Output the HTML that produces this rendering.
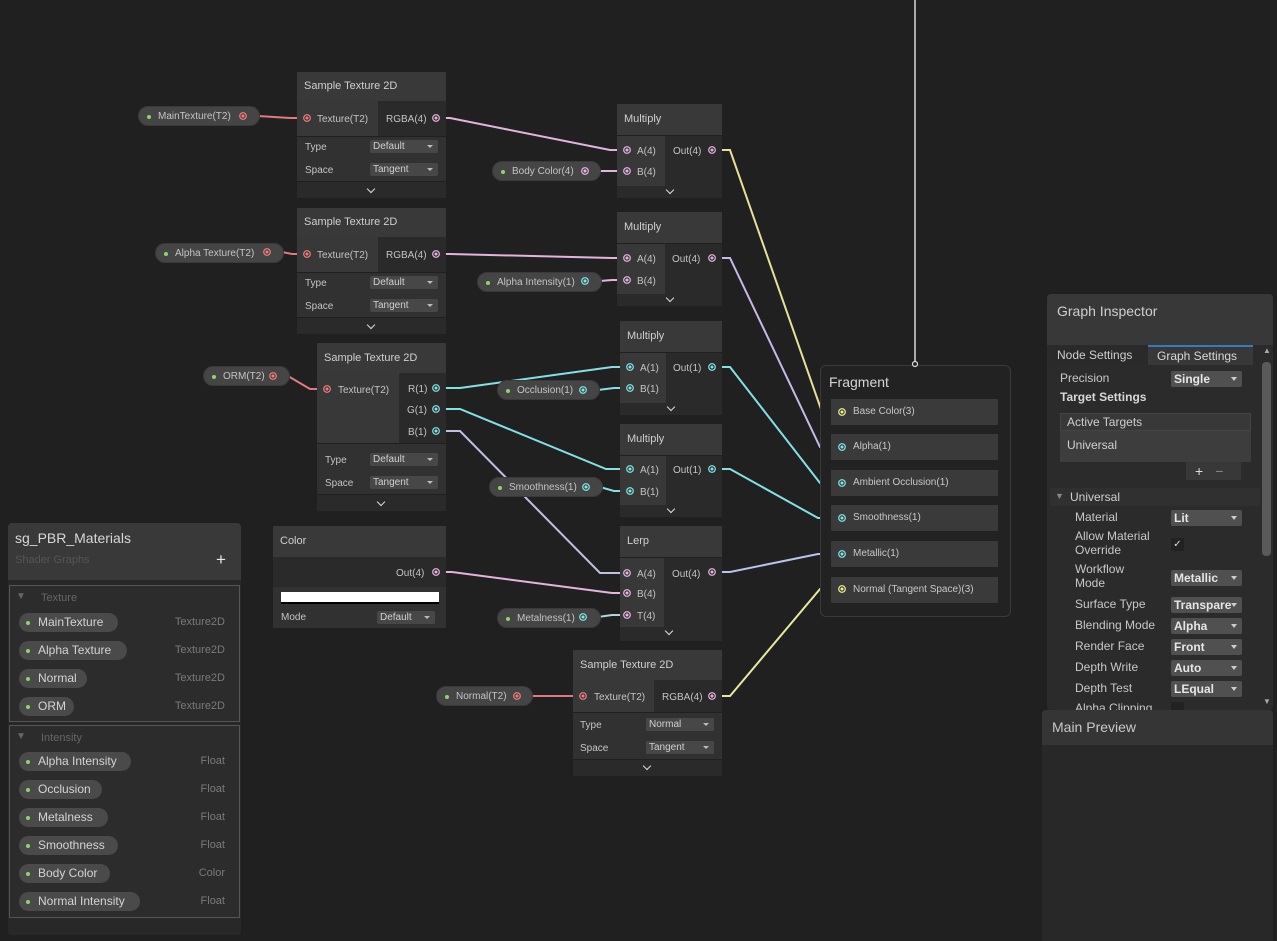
<!DOCTYPE html>
<html><head><meta charset="utf-8"><style>
*{margin:0;padding:0;box-sizing:border-box}
body{width:1277px;height:941px;background:#202020;position:relative;overflow:hidden;font-family:"Liberation Sans",sans-serif;color:#c4c4c4}
div{position:absolute}
.t{font-size:10px;line-height:14px;white-space:nowrap;color:#c4c4c4;margin-top:2px}
.hd{background:#393939;font-size:11px;line-height:14px;color:#cfcfcf;padding:0 7px}
.i{background:#383838}.o{background:#2a2a2a}.op{background:#313131}.ft{background:#2a2a2a}
.dd{background:#474747;border-radius:2px;font-size:10px;line-height:13px;height:13px;padding-left:3px;color:#d0d0d0}
.dd:after{content:"";position:absolute;right:5px;top:5px;border-left:3px solid transparent;border-right:3px solid transparent;border-top:3px solid #bbb}
.chev{width:6px;height:6px;border-right:1.5px solid #ddd;border-bottom:1.5px solid #ddd;transform:rotate(45deg)}
.pill{background:#454545;border-radius:10px;height:20px;font-size:10px;line-height:20px;padding-left:19px;color:#c4c4c4;border:1px solid #3a3a3a}
.pill:before{content:"";position:absolute;left:8px;top:8px;width:4px;height:4px;border-radius:2px;background:#8cd46c}
.bp{background:#4a4a4a;border-radius:10px;height:19px;font-size:12px;line-height:19px;padding-left:19px;color:#d4d4d4;left:19px}
.bp:before{content:"";position:absolute;left:7px;top:8px;width:4px;height:4px;border-radius:2px;background:#8cd46c}
.ty{font-size:11px;color:#7a7a7a;width:90px;text-align:right;left:135px;margin-top:0}
.sl{background:#3a3a3a;left:831px;width:167px;height:26px;font-size:10px;line-height:26px;padding-left:22px;color:#c8c8c8}
.lb{font-size:12px;line-height:14px;color:#c8c8c8;left:1075px;white-space:nowrap}
.idd{background:#505050;border-radius:2px;left:1171px;width:71px;height:16px;font-size:12px;font-weight:bold;line-height:16px;padding-left:3px;color:#e6e6e6;overflow:hidden;white-space:nowrap}
.idd:after{content:"";position:absolute;right:5px;top:6px;border-left:3.5px solid transparent;border-right:3.5px solid transparent;border-top:4px solid #ccc}
</style></head><body>

<svg style="position:absolute;left:0;top:0" width="1277" height="941" fill="none" stroke-width="2">
<line x1="915" y1="0" x2="915" y2="364" stroke="#d8d8d8" stroke-width="1.5"/>
<g stroke="#e07a80">
<polyline points="243,116 258,116 290,118 307,118"/>
<polyline points="267,252 282,252 292,254 307,254"/>
<polyline points="273,376 288,376 310,389 327,389"/>
<polyline points="517,696 532,696 568,696 583,696"/>
</g>
<g stroke="#e3b4de">
<polyline points="436,118 450,118 610,150 627,150"/>
<polyline points="585,171 600,171 612,171 627,171"/>
<polyline points="436,254 450,254 612,258 627,258"/>
<polyline points="585,281 600,281 612,280 627,280"/>
<polyline points="436,572 452,572 612,593 627,593"/>
<polyline points="583,617 598,617 612,615 627,615" stroke="#b8d0e0"/>
</g>
<g stroke="#84e0e4">
<polyline points="436,388 460,388 612,367 630,367"/>
<polyline points="583,390 598,390 614,388 630,388"/>
<polyline points="436,409 460,409 606,469 630,469"/>
<polyline points="586,487 600,487 614,491 630,491"/>
<polyline points="712,367 730,367 820,483 842,483"/>
<polyline points="712,469 730,469 818,518 842,518"/>
</g>
<polyline points="436,431 460,431 600,573 627,573" stroke="#c0c0e0"/>
<polyline points="712,150 730,150 822,412 842,412" stroke="#e8e09a"/>
<polyline points="712,258 730,258 820,447 842,447" stroke="#c8b8e8"/>
<polyline points="712,572 730,572 818,554 842,554" stroke="#b8c4ec"/>
<polyline points="712,696 730,696 820,589 842,589" stroke="#e8e8a0"/>
</svg>

<!-- ST1 -->
<div class="hd" style="left:297px;top:72px;width:149px;height:29px;line-height:29px">Sample Texture 2D</div>
<div class="i" style="left:297px;top:101px;width:81px;height:35px"></div>
<div class="o" style="left:378px;top:101px;width:68px;height:35px"></div>
<div class="op" style="left:297px;top:137px;width:149px;height:44px"></div>
<div class="ft" style="left:297px;top:182px;width:149px;height:16px"></div>
<div class="chev" style="left:368px;top:186px"></div>
<div class="t" style="left:317px;top:111px">Texture(T2)</div>
<div class="t" style="left:386px;top:111px">RGBA(4)</div>
<div class="t" style="left:305px;top:139px">Type</div><div class="dd" style="left:370px;top:140px;width:68px">Default</div>
<div class="t" style="left:305px;top:162px">Space</div><div class="dd" style="left:370px;top:163px;width:68px">Tangent</div>
<!-- ST2 -->
<div class="hd" style="left:297px;top:208px;width:149px;height:29px;line-height:29px">Sample Texture 2D</div>
<div class="i" style="left:297px;top:237px;width:81px;height:35px"></div>
<div class="o" style="left:378px;top:237px;width:68px;height:35px"></div>
<div class="op" style="left:297px;top:273px;width:149px;height:44px"></div>
<div class="ft" style="left:297px;top:318px;width:149px;height:16px"></div>
<div class="chev" style="left:368px;top:322px"></div>
<div class="t" style="left:317px;top:247px">Texture(T2)</div>
<div class="t" style="left:386px;top:247px">RGBA(4)</div>
<div class="t" style="left:305px;top:275px">Type</div><div class="dd" style="left:370px;top:276px;width:68px">Default</div>
<div class="t" style="left:305px;top:298px">Space</div><div class="dd" style="left:370px;top:299px;width:68px">Tangent</div>
<!-- ST3 -->
<div class="hd" style="left:317px;top:343px;width:129px;height:30px;line-height:30px">Sample Texture 2D</div>
<div class="i" style="left:317px;top:373px;width:82px;height:70px"></div>
<div class="o" style="left:399px;top:373px;width:47px;height:70px"></div>
<div class="op" style="left:317px;top:444px;width:129px;height:50px"></div>
<div class="ft" style="left:317px;top:495px;width:129px;height:16px"></div>
<div class="chev" style="left:378px;top:499px"></div>
<div class="t" style="left:338px;top:382px">Texture(T2)</div>
<div class="t" style="left:408px;top:381px">R(1)</div>
<div class="t" style="left:407px;top:402px">G(1)</div>
<div class="t" style="left:408px;top:424px">B(1)</div>
<div class="t" style="left:325px;top:452px">Type</div><div class="dd" style="left:370px;top:453px;width:68px">Default</div>
<div class="t" style="left:325px;top:475px">Space</div><div class="dd" style="left:370px;top:476px;width:68px">Tangent</div>
<!-- Color -->
<div class="hd" style="left:273px;top:526px;width:173px;height:31px;line-height:31px">Color</div>
<div class="o" style="left:273px;top:557px;width:173px;height:30px"></div>
<div class="op" style="left:273px;top:587px;width:173px;height:41px"></div>
<div class="t" style="left:396px;top:565px">Out(4)</div>
<div style="left:281px;top:592px;width:158px;height:12px;background:#fff;border-bottom:2px solid #000"></div>
<div class="t" style="left:281px;top:609px">Mode</div><div class="dd" style="left:377px;top:611px;width:58px">Default</div>

<!-- Multiplies -->
<div class="hd" style="left:617px;top:104px;width:105px;height:31px;line-height:31px">Multiply</div>
<div class="i" style="left:617px;top:136px;width:48px;height:50px"></div><div class="o" style="left:665px;top:136px;width:57px;height:50px"></div>
<div class="ft" style="left:617px;top:186px;width:105px;height:12px"></div><div class="chev" style="left:667px;top:187px"></div>
<div class="t" style="left:637px;top:143px">A(4)</div><div class="t" style="left:637px;top:164px">B(4)</div><div class="t" style="left:673px;top:143px">Out(4)</div>

<div class="hd" style="left:617px;top:212px;width:105px;height:31px;line-height:31px">Multiply</div>
<div class="i" style="left:617px;top:244px;width:48px;height:50px"></div><div class="o" style="left:665px;top:244px;width:57px;height:50px"></div>
<div class="ft" style="left:617px;top:294px;width:105px;height:12px"></div><div class="chev" style="left:667px;top:295px"></div>
<div class="t" style="left:637px;top:251px">A(4)</div><div class="t" style="left:637px;top:273px">B(4)</div><div class="t" style="left:672px;top:251px">Out(4)</div>

<div class="hd" style="left:620px;top:321px;width:102px;height:31px;line-height:31px">Multiply</div>
<div class="i" style="left:620px;top:353px;width:46px;height:50px"></div><div class="o" style="left:666px;top:353px;width:56px;height:50px"></div>
<div class="ft" style="left:620px;top:403px;width:102px;height:12px"></div><div class="chev" style="left:668px;top:404px"></div>
<div class="t" style="left:640px;top:360px">A(1)</div><div class="t" style="left:640px;top:381px">B(1)</div><div class="t" style="left:673px;top:360px">Out(1)</div>

<div class="hd" style="left:620px;top:424px;width:102px;height:31px;line-height:31px">Multiply</div>
<div class="i" style="left:620px;top:456px;width:46px;height:49px"></div><div class="o" style="left:666px;top:456px;width:56px;height:49px"></div>
<div class="ft" style="left:620px;top:505px;width:102px;height:12px"></div><div class="chev" style="left:668px;top:506px"></div>
<div class="t" style="left:640px;top:462px">A(1)</div><div class="t" style="left:640px;top:484px">B(1)</div><div class="t" style="left:673px;top:462px">Out(1)</div>

<div class="hd" style="left:620px;top:526px;width:102px;height:31px;line-height:31px">Lerp</div>
<div class="i" style="left:620px;top:558px;width:44px;height:69px"></div><div class="o" style="left:664px;top:558px;width:58px;height:69px"></div>
<div class="ft" style="left:620px;top:627px;width:102px;height:14px"></div><div class="chev" style="left:666px;top:628px"></div>
<div class="t" style="left:637px;top:566px">A(4)</div><div class="t" style="left:637px;top:586px">B(4)</div><div class="t" style="left:637px;top:608px">T(4)</div><div class="t" style="left:672px;top:566px">Out(4)</div>

<!-- ST4 -->
<div class="hd" style="left:573px;top:650px;width:149px;height:30px;line-height:30px">Sample Texture 2D</div>
<div class="i" style="left:573px;top:680px;width:81px;height:32px"></div>
<div class="o" style="left:654px;top:680px;width:68px;height:32px"></div>
<div class="op" style="left:573px;top:713px;width:149px;height:46px"></div>
<div class="ft" style="left:573px;top:760px;width:149px;height:16px"></div>
<div class="chev" style="left:644px;top:763px"></div>
<div class="t" style="left:594px;top:689px">Texture(T2)</div>
<div class="t" style="left:662px;top:689px">RGBA(4)</div>
<div class="t" style="left:580px;top:717px">Type</div><div class="dd" style="left:646px;top:718px;width:68px">Normal</div>
<div class="t" style="left:580px;top:740px">Space</div><div class="dd" style="left:646px;top:741px;width:68px">Tangent</div>

<!-- Pills -->
<div class="pill" style="left:138px;top:106px;width:122px">MainTexture(T2)</div>
<div class="pill" style="left:155px;top:243px;width:129px">Alpha Texture(T2)</div>
<div class="pill" style="left:203px;top:366px;width:87px">ORM(T2)</div>
<div class="pill" style="left:492px;top:161px;width:109px">Body Color(4)</div>
<div class="pill" style="left:477px;top:272px;width:125px">Alpha Intensity(1)</div>
<div class="pill" style="left:497px;top:380px;width:103px">Occlusion(1)</div>
<div class="pill" style="left:489px;top:477px;width:114px">Smoothness(1)</div>
<div class="pill" style="left:497px;top:608px;width:104px">Metalness(1)</div>
<div class="pill" style="left:436px;top:686px;width:97px">Normal(T2)</div>

<!-- Fragment -->
<div style="left:820px;top:365px;width:191px;height:252px;background:#222;border:1px solid #3a3a3a;border-radius:6px"></div>
<div style="left:829px;top:374px;font-size:14px;line-height:16px;color:#d6d6d6">Fragment</div>
<div class="sl" style="top:399px">Base Color(3)</div>
<div class="sl" style="top:434px">Alpha(1)</div>
<div class="sl" style="top:470px">Ambient Occlusion(1)</div>
<div class="sl" style="top:505px">Smoothness(1)</div>
<div class="sl" style="top:541px">Metallic(1)</div>
<div class="sl" style="top:577px">Normal (Tangent Space)(3)</div>

<!-- ports overlay -->
<svg style="position:absolute;left:0;top:0" width="1277" height="941">
<g fill="none" stroke-width="1.2" stroke="#f27b7b">
<circle cx="243" cy="116" r="3.3"/><circle cx="307" cy="118" r="3.3"/><circle cx="267" cy="252" r="3.3"/><circle cx="307" cy="254" r="3.3"/><circle cx="273" cy="376" r="3.3"/><circle cx="327" cy="389" r="3.3"/><circle cx="517" cy="696" r="3.3"/><circle cx="583" cy="696" r="3.3"/>
</g>
<g fill="#f27b7b"><circle cx="243" cy="116" r="1.5"/><circle cx="307" cy="118" r="1.5"/><circle cx="267" cy="252" r="1.5"/><circle cx="307" cy="254" r="1.5"/><circle cx="273" cy="376" r="1.5"/><circle cx="327" cy="389" r="1.5"/><circle cx="517" cy="696" r="1.5"/><circle cx="583" cy="696" r="1.5"/></g>
<g fill="none" stroke-width="1.2" stroke="#e8b4e2">
<circle cx="436" cy="118" r="3.3"/><circle cx="436" cy="254" r="3.3"/><circle cx="627" cy="150" r="3.3"/><circle cx="627" cy="171" r="3.3"/><circle cx="712" cy="150" r="3.3"/><circle cx="585" cy="171" r="3.3"/><circle cx="627" cy="258" r="3.3"/><circle cx="627" cy="280" r="3.3"/><circle cx="712" cy="258" r="3.3"/><circle cx="436" cy="572" r="3.3"/><circle cx="627" cy="573" r="3.3"/><circle cx="627" cy="593" r="3.3"/><circle cx="627" cy="615" r="3.3"/><circle cx="712" cy="572" r="3.3"/><circle cx="712" cy="696" r="3.3"/>
</g>
<g fill="#e8b4e2"><circle cx="436" cy="118" r="1.5"/><circle cx="436" cy="254" r="1.5"/><circle cx="627" cy="150" r="1.5"/><circle cx="627" cy="171" r="1.5"/><circle cx="712" cy="150" r="1.5"/><circle cx="585" cy="171" r="1.5"/><circle cx="627" cy="258" r="1.5"/><circle cx="627" cy="280" r="1.5"/><circle cx="712" cy="258" r="1.5"/><circle cx="436" cy="572" r="1.5"/><circle cx="627" cy="573" r="1.5"/><circle cx="627" cy="593" r="1.5"/><circle cx="627" cy="615" r="1.5"/><circle cx="712" cy="572" r="1.5"/><circle cx="712" cy="696" r="1.5"/></g>
<g fill="none" stroke-width="1.2" stroke="#84e4e7">
<circle cx="436" cy="388" r="3.3"/><circle cx="436" cy="409" r="3.3"/><circle cx="436" cy="431" r="3.3"/><circle cx="585" cy="281" r="3.3"/><circle cx="630" cy="367" r="3.3"/><circle cx="630" cy="388" r="3.3"/><circle cx="712" cy="367" r="3.3"/><circle cx="583" cy="390" r="3.3"/><circle cx="630" cy="469" r="3.3"/><circle cx="630" cy="491" r="3.3"/><circle cx="712" cy="469" r="3.3"/><circle cx="586" cy="487" r="3.3"/><circle cx="583" cy="617" r="3.3"/><circle cx="842" cy="447" r="3.3"/><circle cx="842" cy="483" r="3.3"/><circle cx="842" cy="518" r="3.3"/><circle cx="842" cy="554" r="3.3"/>
</g>
<g fill="#84e4e7"><circle cx="436" cy="388" r="1.5"/><circle cx="436" cy="409" r="1.5"/><circle cx="436" cy="431" r="1.5"/><circle cx="585" cy="281" r="1.5"/><circle cx="630" cy="367" r="1.5"/><circle cx="630" cy="388" r="1.5"/><circle cx="712" cy="367" r="1.5"/><circle cx="583" cy="390" r="1.5"/><circle cx="630" cy="469" r="1.5"/><circle cx="630" cy="491" r="1.5"/><circle cx="712" cy="469" r="1.5"/><circle cx="586" cy="487" r="1.5"/><circle cx="583" cy="617" r="1.5"/><circle cx="842" cy="447" r="1.5"/><circle cx="842" cy="483" r="1.5"/><circle cx="842" cy="518" r="1.5"/><circle cx="842" cy="554" r="1.5"/></g>
<g fill="none" stroke-width="1.2" stroke="#f0f090"><circle cx="842" cy="412" r="3.3"/><circle cx="842" cy="589" r="3.3"/></g>
<g fill="#f0f090"><circle cx="842" cy="412" r="1.5"/><circle cx="842" cy="589" r="1.5"/></g>
<circle cx="915" cy="364" r="2.5" fill="#222" stroke="#ddd" stroke-width="1.2"/>
</svg>

<!-- Blackboard -->
<div style="left:8px;top:523px;width:233px;height:412px;background:#282828;border-radius:4px"></div>
<div style="left:8px;top:523px;width:233px;height:57px;background:#393939;border-radius:4px 4px 0 0"></div>
<div style="left:15px;top:530px;font-size:14px;line-height:16px;color:#d8d8d8">sg_PBR_Materials</div>
<div style="left:15px;top:554px;font-size:11px;line-height:13px;color:#555">Shader Graphs</div>
<div style="left:216px;top:550px;font-size:17px;line-height:20px;color:#e8e8e8">+</div>
<div style="left:9px;top:585px;width:231px;height:137px;border:1px solid #555;background:#2c2c2c"></div>
<div style="left:16px;top:591px;font-size:10px;color:#666">▼</div>
<div style="left:41px;top:591px;font-size:11px;line-height:14px;color:#666">Texture</div>
<div class="bp" style="top:613px;width:99px">MainTexture</div><div class="t ty" style="top:615px">Texture2D</div>
<div class="bp" style="top:641px;width:108px">Alpha Texture</div><div class="t ty" style="top:643px">Texture2D</div>
<div class="bp" style="top:669px;width:68px">Normal</div><div class="t ty" style="top:671px">Texture2D</div>
<div class="bp" style="top:697px;width:55px">ORM</div><div class="t ty" style="top:699px">Texture2D</div>
<div style="left:9px;top:725px;width:231px;height:193px;border:1px solid #555;background:#2c2c2c"></div>
<div style="left:16px;top:731px;font-size:10px;color:#666">▼</div>
<div style="left:41px;top:731px;font-size:11px;line-height:14px;color:#666">Intensity</div>
<div class="bp" style="top:752px;width:112px">Alpha Intensity</div><div class="t ty" style="top:754px">Float</div>
<div class="bp" style="top:780px;width:83px">Occlusion</div><div class="t ty" style="top:782px">Float</div>
<div class="bp" style="top:808px;width:89px">Metalness</div><div class="t ty" style="top:810px">Float</div>
<div class="bp" style="top:836px;width:99px">Smoothness</div><div class="t ty" style="top:838px">Float</div>
<div class="bp" style="top:864px;width:91px">Body Color</div><div class="t ty" style="top:866px">Color</div>
<div class="bp" style="top:892px;width:121px">Normal Intensity</div><div class="t ty" style="top:894px">Float</div>

<!-- Inspector -->
<div style="left:1047px;top:294px;width:226px;height:416px;background:#2b2b2b;border-radius:4px"></div>
<div style="left:1047px;top:294px;width:226px;height:51px;background:#383838;border-radius:4px 4px 0 0"></div>
<div style="left:1057px;top:303px;font-size:14px;line-height:16px;color:#cfcfcf">Graph Inspector</div>
<div style="left:1050px;top:345px;width:98px;height:20px;background:#2a2a2a;font-size:12px;line-height:20px;padding-left:7px;color:#cfcfcf">Node Settings</div>
<div style="left:1148px;top:345px;width:105px;height:20px;background:#383838;border-top:2px solid #3a79bb;font-size:12px;line-height:18px;padding-left:9px;color:#d8d8d8">Graph Settings</div>
<div style="left:1262px;top:362px;width:9px;height:194px;background:#5a5a5a;border-radius:4px"></div>
<div style="left:1263px;top:346px;font-size:8px;color:#aaa">▲</div>
<div style="left:1263px;top:697px;font-size:8px;color:#aaa">▼</div>
<div class="lb" style="left:1060px;top:371px">Precision</div><div class="idd" style="top:371px">Single</div>
<div class="lb" style="left:1060px;top:390px;font-weight:bold;color:#d8d8d8">Target Settings</div>
<div style="left:1060px;top:413px;width:191px;height:18px;background:#383838;border:1px solid #444;font-size:12px;line-height:17px;padding-left:6px;color:#cfcfcf">Active Targets</div>
<div style="left:1060px;top:431px;width:191px;height:31px;background:#3d3d3d;font-size:12px;line-height:29px;padding-left:7px;color:#d0d0d0">Universal</div>
<div style="left:1186px;top:462px;width:55px;height:18px;background:#383838;font-size:14px;line-height:18px;color:#ddd;padding-left:9px">+<span style="color:#888;margin-left:12px">−</span></div>
<div style="left:1050px;top:488px;width:210px;height:18px;background:#303030"></div>
<div style="left:1055px;top:491px;font-size:9px;color:#888">▼</div>
<div class="lb" style="left:1070px;top:490px;color:#cfcfcf">Universal</div>
<div class="lb" style="top:510px">Material</div><div class="idd" style="top:510px">Lit</div>
<div class="lb" style="top:529px">Allow Material</div><div class="lb" style="top:543px">Override</div>
<div style="left:1171px;top:538px;width:13px;height:13px;background:#222;color:#ddd;font-size:10px;line-height:13px;text-align:center">✓</div>
<div class="lb" style="top:562px">Workflow</div><div class="lb" style="top:576px">Mode</div><div class="idd" style="top:570px">Metallic</div>
<div class="lb" style="top:597px">Surface Type</div><div class="idd" style="top:597px">Transpare</div>
<div class="lb" style="top:618px">Blending Mode</div><div class="idd" style="top:618px">Alpha</div>
<div class="lb" style="top:639px">Render Face</div><div class="idd" style="top:639px">Front</div>
<div class="lb" style="top:660px">Depth Write</div><div class="idd" style="top:660px">Auto</div>
<div class="lb" style="top:681px">Depth Test</div><div class="idd" style="top:681px">LEqual</div>
<div style="left:1075px;top:700px;width:150px;height:10px;overflow:hidden"><div class="lb" style="left:0;top:1px">Alpha Clipping</div></div>
<div style="left:1171px;top:702px;width:13px;height:8px;background:#222"></div>

<!-- Main preview -->
<div style="left:1042px;top:710px;width:231px;height:231px;background:#282828;border-radius:4px 4px 0 0"></div>
<div style="left:1042px;top:710px;width:231px;height:35px;background:#353535;border-radius:4px 4px 0 0;font-size:14px;line-height:35px;padding-left:10px;color:#c8c8c8">Main Preview</div>
</body></html>
